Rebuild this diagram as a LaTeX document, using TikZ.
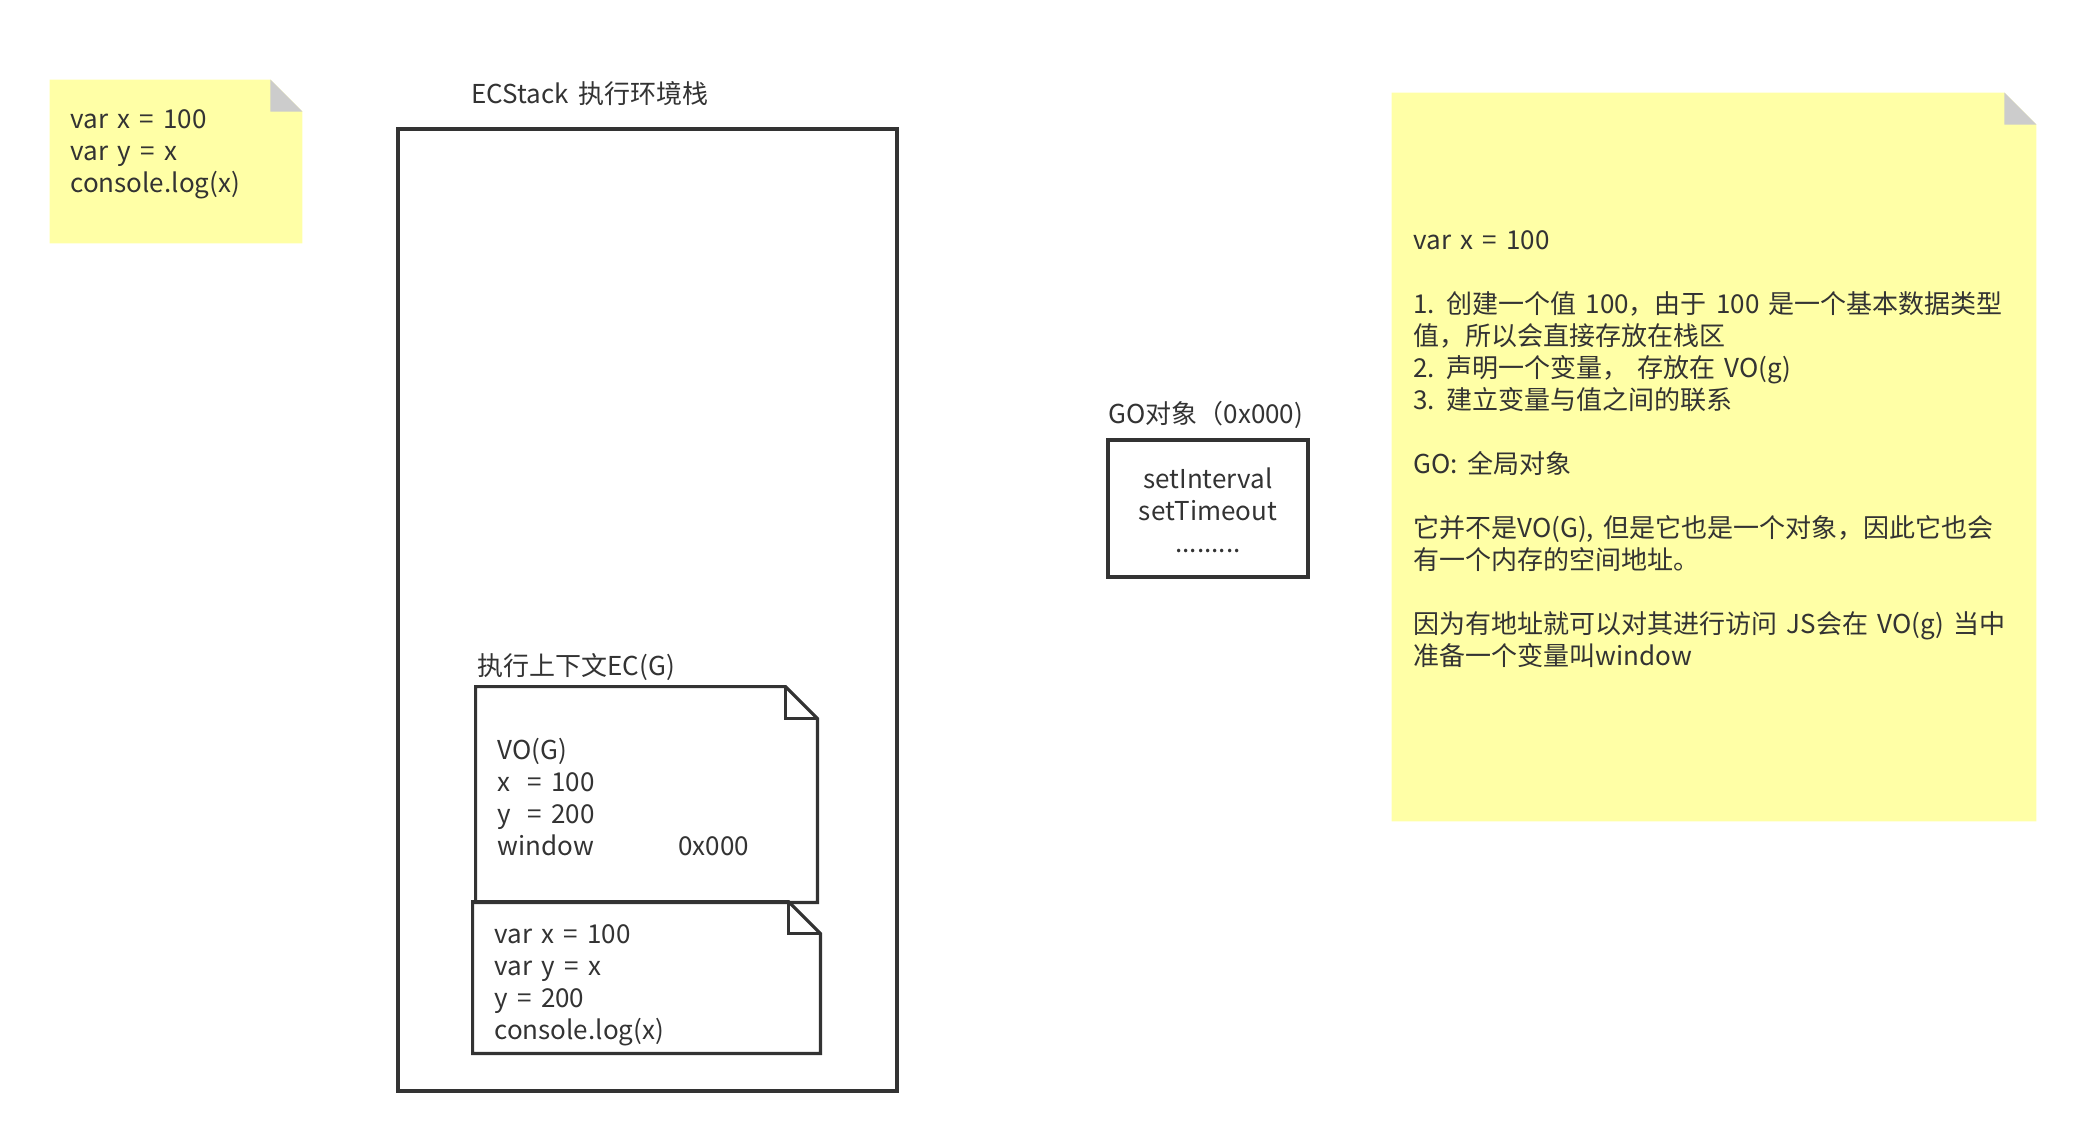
\documentclass[tikz,border=0pt]{standalone}
\usepackage{fontspec}
\setmainfont{Noto Sans CJK SC}[WordSpace=1.6]
\usetikzlibrary{positioning}
\definecolor{linegray}{HTML}{333333}
\definecolor{notefill}{HTML}{FFFFA6}
\definecolor{foldgray}{HTML}{CCCCCC}

\begin{document}
\begin{tikzpicture}[
    x=0.5pt, y=-0.5pt,
    frame/.style={
        draw=linegray,
        line width=1.6pt,
        inner sep=0pt
    },
    sheet/.style={inner sep=0pt},
    txt/.style={
        font=\fontsize{13}{16}\selectfont,
        text=linegray,
        inner sep=0pt,
        align=left
    },
    fold/.style={draw=linegray, line width=1.6pt, line join=miter}
]
\useasboundingbox (0,0) rectangle (2086,1140);

% sticky note, top left (text anchored at its last baseline)
\node[sheet, minimum width=126pt, minimum height=81.5pt] (snippet) at (176,161.5) {};
\fill[notefill] (snippet.north west) -- ([xshift=-16pt]snippet.north east)
    -- ([yshift=-16pt]snippet.north east) -- (snippet.south east) -- (snippet.south west) -- cycle;
\fill[foldgray] ([xshift=-16pt]snippet.north east) -- ([yshift=-16pt]snippet.north east)
    -- ([xshift=-16pt, yshift=-16pt]snippet.north east) -- cycle;
\node[txt, anchor=base west] (snippettext) at (70,192) {var x = 100\\var y = x\\console.log(x)};

% execution context stack
\node[frame, minimum width=249.5pt, minimum height=481pt] (stack) at (647.5,610) {};
\node[txt, anchor=base west] (stacktitle) at (471,103) {ECStack 执行环境栈};

% EC(G)
\node[txt, anchor=base west] (ectitle) at (477,675) {执行上下文EC(G)};
\node[sheet, minimum width=170.5pt, minimum height=107.5pt] (vo) at (646.5,794.5) {};
\draw[fold] (vo.north west) -- ([xshift=-16pt]vo.north east) -- ([yshift=-16pt]vo.north east)
    -- (vo.south east) -- (vo.south west) -- cycle;
\draw[fold] ([xshift=-16pt]vo.north east) |- ([yshift=-16pt]vo.north east);
\node[txt, anchor=base west] (votext) at (497,855)
    {VO(G)\\\makebox[15pt][l]{x}= 100\\\makebox[15pt][l]{y}= 200\\\makebox[90.5pt][l]{window}0x000};

\node[sheet, minimum width=173.5pt, minimum height=75.5pt] (ecg) at (646.5,977.5) {};
\draw[fold] (ecg.north west) -- ([xshift=-16pt]ecg.north east) -- ([yshift=-16pt]ecg.north east)
    -- (ecg.south east) -- (ecg.south west) -- cycle;
\draw[fold] ([xshift=-16pt]ecg.north east) |- ([yshift=-16pt]ecg.north east);
\node[txt, anchor=base west] (ecgtext) at (494,1039) {var x = 100\\var y = x\\y = 200\\console.log(x)};

% global object
\node[txt, anchor=base west] (gotitle) at (1108,423) {GO对象（0x000)};
\node[frame, minimum width=100pt, minimum height=68.5pt] (go) at (1208,508.5) {};
\node[txt, align=center, anchor=base] (gotext) at (1208,552) {setInterval\\setTimeout\\.........};

% sticky note, right
\node[sheet, minimum width=322pt, minimum height=364pt] (memo) at (1714,457) {};
\fill[notefill] (memo.north west) -- ([xshift=-16pt]memo.north east)
    -- ([yshift=-16pt]memo.north east) -- (memo.south east) -- (memo.south west) -- cycle;
\fill[foldgray] ([xshift=-16pt]memo.north east) -- ([yshift=-16pt]memo.north east)
    -- ([xshift=-16pt, yshift=-16pt]memo.north east) -- cycle;
\node[txt, anchor=base west] (memotext) at (1413,665) {var x = 100\\[16pt]
    1. 创建一个值 100，由于 100 是一个基本数据类型\\
    值，所以会直接存放在栈区\\
    2. 声明一个变量， 存放在 VO(g)\\
    3. 建立变量与值之间的联系\\[16pt]
    GO: 全局对象\\[16pt]
    它并不是VO(G), 但是它也是一个对象，因此它也会\\
    有一个内存的空间地址。\\[16pt]
    因为有地址就可以对其进行访问 JS会在 VO(g) 当中\\
    准备一个变量叫window};
\end{tikzpicture}
\end{document}
